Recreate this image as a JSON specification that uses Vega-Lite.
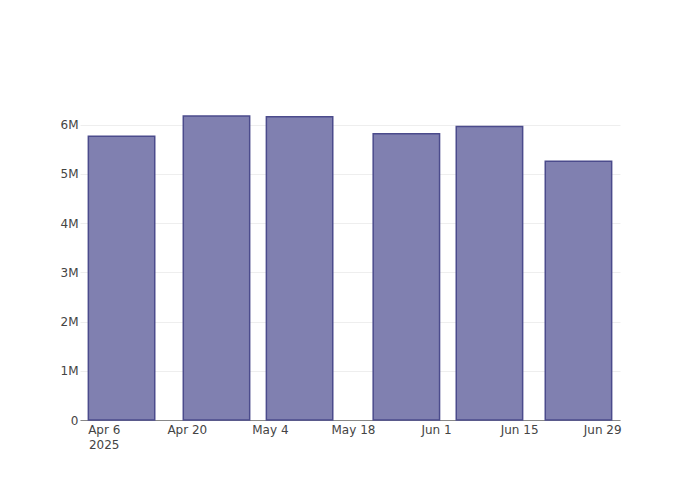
{
  "$schema": "https://vega.github.io/schema/vega-lite/v6.json",
  "width": 540,
  "height": 320,
  "autosize": "none",
  "padding": {"left": 80, "top": 100, "right": 80, "bottom": 80},
  "background": "white",
  "config": {
    "view": {"stroke": null},
    "font": "DejaVu Sans",
    "axis": {"labelFont": "DejaVu Sans", "labelFontSize": 12, "labelColor": "#444", "titleFont": "DejaVu Sans"}
  },
  "data": {
    "values": [
      {"date": "2025-04-09", "value": 5765000},
      {"date": "2025-04-25", "value": 6175000},
      {"date": "2025-05-09", "value": 6160000},
      {"date": "2025-05-27", "value": 5815000},
      {"date": "2025-06-10", "value": 5960000},
      {"date": "2025-06-25", "value": 5255000}
    ]
  },
  "mark": {"type": "bar", "size": 66.4, "fill": "#8080b0", "stroke": "#4b4b8c", "strokeWidth": 1.5},
  "encoding": {
    "x": {
      "field": "date",
      "type": "temporal",
      "title": null,
      "scale": {
        "type": "utc",
        "padding": 0,
        "domain": [
          {"year": 2025, "month": 4, "date": 2, "utc": true},
          {"year": 2025, "month": 7, "date": 2, "utc": true}
        ]
      },
      "axis": {
        "values": [
          {"year": 2025, "month": 4, "date": 6, "utc": true},
          {"year": 2025, "month": 4, "date": 20, "utc": true},
          {"year": 2025, "month": 5, "date": 4, "utc": true},
          {"year": 2025, "month": 5, "date": 18, "utc": true},
          {"year": 2025, "month": 6, "date": 1, "utc": true},
          {"year": 2025, "month": 6, "date": 15, "utc": true},
          {"year": 2025, "month": 6, "date": 29, "utc": true}
        ],
        "labelExpr": "utcmonth(datum.value) == 3 && utcdate(datum.value) == 6 ? [utcFormat(datum.value, '%b %-d'), '2025'] : utcFormat(datum.value, '%b %-d')",
        "grid": false,
        "ticks": false,
        "domain": true,
        "domainColor": "#888",
        "domainWidth": 1,
        "labelPadding": 4,
        "labelLineHeight": 15,
        "labelAlign": "center",
        "labelFlush": false,
        "labelOverlap": false
      }
    },
    "y": {
      "field": "value",
      "type": "quantitative",
      "title": null,
      "scale": {"domain": [0, 6500000], "nice": false, "padding": 0},
      "axis": {
        "values": [0, 1000000, 2000000, 3000000, 4000000, 5000000, 6000000],
        "labelExpr": "datum.value == 0 ? '0' : format(datum.value, '~s')",
        "domain": false,
        "ticks": false,
        "grid": true,
        "gridColor": "#eeeeee",
        "gridWidth": 1,
        "labelPadding": 2
      }
    }
  }
}
